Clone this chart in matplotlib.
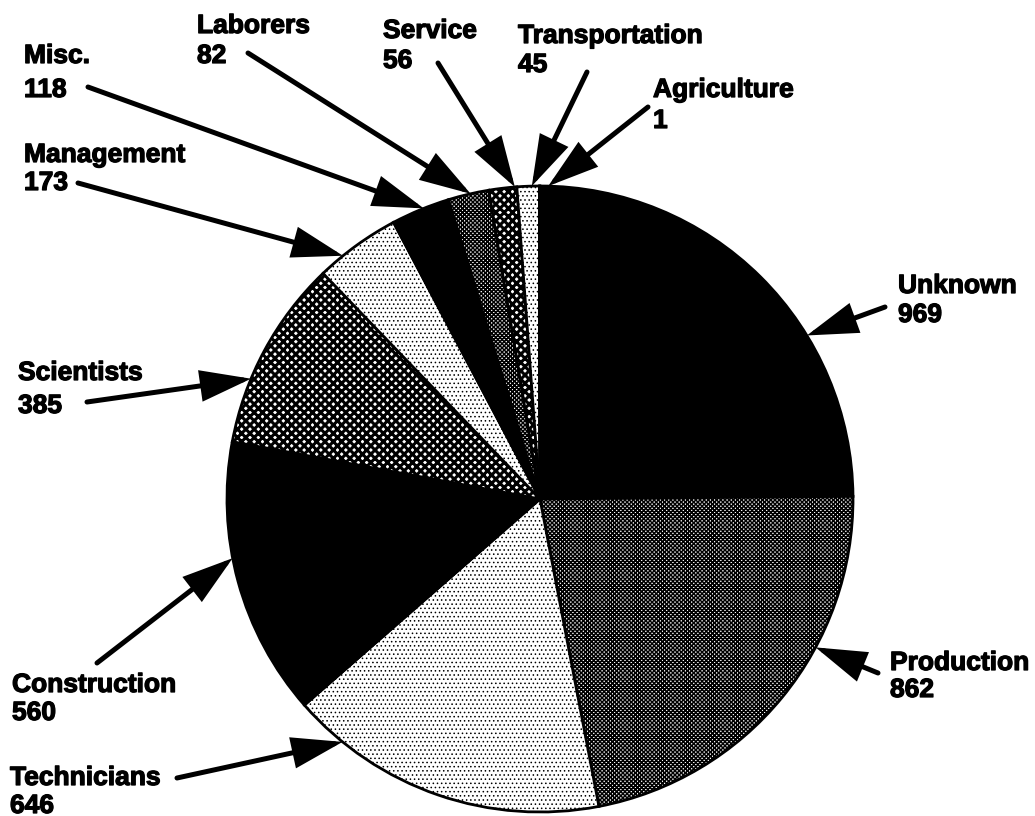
import numpy as np
import matplotlib
matplotlib.use("Agg")
import matplotlib.pyplot as plt
import matplotlib.patheffects as pe
from matplotlib.patches import FancyArrowPatch

# data, clockwise from 12 o'clock
labels = ["Unknown", "Production", "Technicians", "Construction", "Scientists",
          "Management", "Misc.", "Laborers", "Service", "Transportation", "Agriculture"]
counts = [969, 862, 646, 560, 385, 173, 118, 82, 56, 45, 1]

# fill style per slice: (facecolor, hatch)
fills = [("black", None), ("white", "xxxxxxxx"), ("white", "...."), ("black", None),
         ("white", "xxxx"), ("white", "...."), ("black", None), ("white", "xxxxxxxx"),
         ("white", "xxxx"), ("white", "...."), ("white", None)]
hatch_lw = {"xxxx": 2.2, "xxxxxxxx": 1.1, "....": 0.6}

# label layout in pixels: left x, name baseline, value baseline
lab_x = [898, 890, 10, 12, 18, 24, 24, 197, 383, 518, 653]
lab_y1 = [293, 670, 785, 692, 380, 162, 63, 33, 38, 43, 97]
lab_y2 = [322, 697, 813, 720, 413, 190, 97, 63, 68, 72, 128]
# arrow tails (pixels) and tip angle on the rim (degrees)
tail_x = [885, 878, 177, 97, 87, 78, 88, 248, 438, 587, 648]
tail_y = [307, 673, 778, 663, 402, 183, 87, 53, 63, 72, 107]
tip_ang = [31.5, -28.3, -129.1, -169.1, 157.4, 129.0, 111.8, 102.8, 94.6, 91.5, 88.5]

W, H = 1035, 816
cx, cy, R = 540, H - 499, 313

plt.rcParams['font.family'] = ['Liberation Sans', 'DejaVu Sans']

fig = plt.figure(figsize=(W / 100, H / 100), dpi=100)
ax = fig.add_axes([0, 0, 1, 1])

wedges, _ = ax.pie(counts, startangle=90, counterclock=False, center=(cx, cy), radius=R,
                   colors=[f[0] for f in fills],
                   wedgeprops=dict(edgecolor="black", linewidth=2))
for w, (fc, hatch) in zip(wedges, fills):
    if hatch:
        w.set_hatch(hatch)
        if hasattr(w, "set_hatch_linewidth"):
            w.set_hatch_linewidth(hatch_lw[hatch])

ax.set_xlim(0, W)
ax.set_ylim(0, H)
ax.set_aspect("equal")
ax.axis("off")

heavy = [pe.withStroke(linewidth=0.9, foreground="black")]
for i, name in enumerate(labels):
    ax.text(lab_x[i], H - lab_y1[i], name, fontsize=19, fontweight="bold",
            va="baseline", ha="left", path_effects=heavy)
    ax.text(lab_x[i], H - lab_y2[i], str(counts[i]), fontsize=19, fontweight="bold",
            va="baseline", ha="left", path_effects=heavy)
    a = np.deg2rad(tip_ang[i])
    tip = (cx + R * np.cos(a), cy + R * np.sin(a))
    arr = FancyArrowPatch((tail_x[i], H - tail_y[i]), tip,
                          arrowstyle="-|>,head_length=1.45,head_width=0.45",
                          mutation_scale=20, lw=3.6, color="black",
                          shrinkA=0, shrinkB=0, capstyle="round", joinstyle="miter")
    ax.add_patch(arr)

fig.savefig("out.png", dpi=100, facecolor="white")
